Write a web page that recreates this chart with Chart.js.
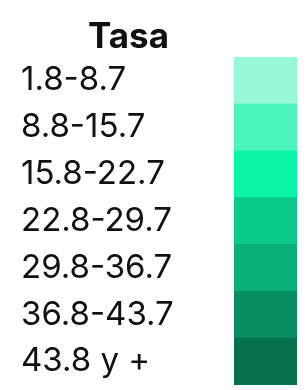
<!doctype html>
<html>
<head>
<meta charset="utf-8">
<title>Tasa</title>
<script src="https://cdn.jsdelivr.net/npm/chart.js"></script>
<style>
  html, body { margin: 0; padding: 0; background: #fff; }
  #wrap { position: relative; width: 308px; height: 390px; }
  canvas { display: block; }
  #titulo {
    position: absolute; left: 0; top: 15px; width: 257px;
    text-align: center; font: bold 35px Inter, sans-serif; color: #111;
    line-height: 40px;
  }
</style>
</head>
<body>
<div id="wrap">
  <div id="titulo">Tasa</div>
  <canvas id="c" width="308" height="390"></canvas>
</div>
<script>
// rangos de la tasa y color de cada clase
const rangos = ['1.8-8.7', '8.8-15.7', '15.8-22.7', '22.8-29.7', '29.8-36.7', '36.8-43.7', '43.8 y +'];
const colores = ['#97f9da', '#4cf5be', '#09f5a7', '#09ca8a', '#0aae78', '#088e61', '#06704b'];
const tramos = [[0, 1], [0, 1], [0, 1], [0, 1], [0, 1], [0, 1], [0, 1]];

const ctx = document.getElementById('c');
new Chart(ctx, {
  type: 'bar',
  data: {
    labels: rangos,
    datasets: [{ data: tramos, backgroundColor: colores, borderWidth: 0, barPercentage: 1, categoryPercentage: 1 }]
  },
  options: {
    indexAxis: 'y',
    responsive: false,
    animation: false,
    layout: { padding: { top: 57, bottom: 5, left: 21, right: 11 } },
    plugins: { legend: { display: false }, tooltip: { enabled: false } },
    scales: {
      x: { display: false, min: 0, max: 1 },
      y: {
        grid: { display: false },
        border: { display: false },
        ticks: { color: '#111', crossAlign: 'far', padding: 0, font: { family: 'Inter', size: 33 } },
        afterFit: (axis) => { axis.width = 213; axis.paddingTop = 0; axis.paddingBottom = 0; }
      }
    }
  }
});
</script>
</body>
</html>
